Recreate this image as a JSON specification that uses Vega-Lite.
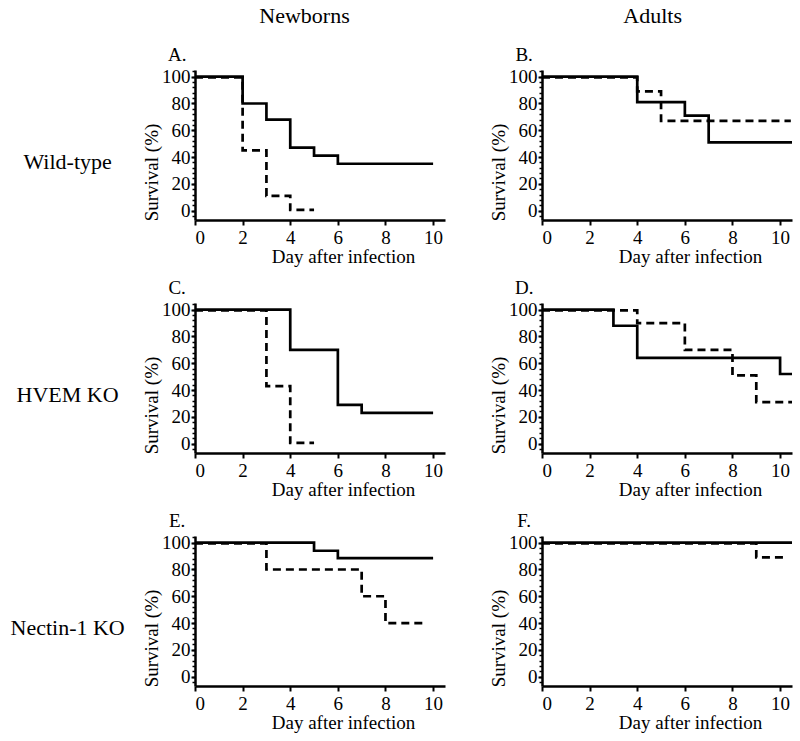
{
  "$schema": "https://vega.github.io/schema/vega-lite/v6.json",
  "background": "white",
  "padding": {"left": 10, "top": 5, "right": 5, "bottom": 5},
  "bounds": "flush",
  "spacing": {"row": 83, "column": 97},
  "resolve": {"axis": {"x": "independent", "y": "independent"}},
  "config": {
    "view": {"stroke": null},
    "font": "Liberation Serif",
    "axis": {
      "grid": false,
      "domainColor": "black",
      "domainWidth": 2.5,
      "tickColor": "black",
      "tickWidth": 2,
      "labelFont": "Liberation Serif",
      "labelFontSize": 19,
      "labelColor": "black",
      "titleFont": "Liberation Serif",
      "titleFontSize": 19,
      "titleFontWeight": "normal",
      "titleColor": "black"
    }
  },
  "data": {
    "values": [
      {"a": "Newborns", "g": "Wild-type", "s": "solid", "d": 0, "v": 100},
      {"a": "Newborns", "g": "Wild-type", "s": "solid", "d": 2, "v": 80},
      {"a": "Newborns", "g": "Wild-type", "s": "solid", "d": 3, "v": 68},
      {"a": "Newborns", "g": "Wild-type", "s": "solid", "d": 4, "v": 47},
      {"a": "Newborns", "g": "Wild-type", "s": "solid", "d": 5, "v": 41},
      {"a": "Newborns", "g": "Wild-type", "s": "solid", "d": 6, "v": 35},
      {"a": "Newborns", "g": "Wild-type", "s": "solid", "d": 10, "v": 35},
      {"a": "Newborns", "g": "Wild-type", "s": "dashed", "d": 0, "v": 99.5},
      {"a": "Newborns", "g": "Wild-type", "s": "dashed", "d": 2, "v": 45},
      {"a": "Newborns", "g": "Wild-type", "s": "dashed", "d": 3, "v": 11},
      {"a": "Newborns", "g": "Wild-type", "s": "dashed", "d": 4, "v": 0.5},
      {"a": "Newborns", "g": "Wild-type", "s": "dashed", "d": 5, "v": 0.5},

      {"a": "Adults", "g": "Wild-type", "s": "solid", "d": 0, "v": 100},
      {"a": "Adults", "g": "Wild-type", "s": "solid", "d": 4, "v": 81},
      {"a": "Adults", "g": "Wild-type", "s": "solid", "d": 6, "v": 71},
      {"a": "Adults", "g": "Wild-type", "s": "solid", "d": 7, "v": 51},
      {"a": "Adults", "g": "Wild-type", "s": "solid", "d": 10.5, "v": 51},
      {"a": "Adults", "g": "Wild-type", "s": "dashed", "d": 0, "v": 99.5},
      {"a": "Adults", "g": "Wild-type", "s": "dashed", "d": 4, "v": 89},
      {"a": "Adults", "g": "Wild-type", "s": "dashed", "d": 5, "v": 67},
      {"a": "Adults", "g": "Wild-type", "s": "dashed", "d": 10.45, "v": 67},

      {"a": "Newborns", "g": "HVEM KO", "s": "solid", "d": 0, "v": 100},
      {"a": "Newborns", "g": "HVEM KO", "s": "solid", "d": 4, "v": 70},
      {"a": "Newborns", "g": "HVEM KO", "s": "solid", "d": 6, "v": 29},
      {"a": "Newborns", "g": "HVEM KO", "s": "solid", "d": 7, "v": 23},
      {"a": "Newborns", "g": "HVEM KO", "s": "solid", "d": 10, "v": 23},
      {"a": "Newborns", "g": "HVEM KO", "s": "dashed", "d": 0, "v": 99.5},
      {"a": "Newborns", "g": "HVEM KO", "s": "dashed", "d": 3, "v": 43},
      {"a": "Newborns", "g": "HVEM KO", "s": "dashed", "d": 4, "v": 0.5},
      {"a": "Newborns", "g": "HVEM KO", "s": "dashed", "d": 5, "v": 0.5},

      {"a": "Adults", "g": "HVEM KO", "s": "solid", "d": 0, "v": 100},
      {"a": "Adults", "g": "HVEM KO", "s": "solid", "d": 3, "v": 88},
      {"a": "Adults", "g": "HVEM KO", "s": "solid", "d": 4, "v": 64},
      {"a": "Adults", "g": "HVEM KO", "s": "solid", "d": 10, "v": 52},
      {"a": "Adults", "g": "HVEM KO", "s": "solid", "d": 10.5, "v": 52},
      {"a": "Adults", "g": "HVEM KO", "s": "dashed", "d": 0, "v": 99.5},
      {"a": "Adults", "g": "HVEM KO", "s": "dashed", "d": 4, "v": 90},
      {"a": "Adults", "g": "HVEM KO", "s": "dashed", "d": 6, "v": 70},
      {"a": "Adults", "g": "HVEM KO", "s": "dashed", "d": 8, "v": 51},
      {"a": "Adults", "g": "HVEM KO", "s": "dashed", "d": 9, "v": 31},
      {"a": "Adults", "g": "HVEM KO", "s": "dashed", "d": 10.5, "v": 31},

      {"a": "Newborns", "g": "Nectin-1 KO", "s": "solid", "d": 0, "v": 100},
      {"a": "Newborns", "g": "Nectin-1 KO", "s": "solid", "d": 5, "v": 94},
      {"a": "Newborns", "g": "Nectin-1 KO", "s": "solid", "d": 6, "v": 88.5},
      {"a": "Newborns", "g": "Nectin-1 KO", "s": "solid", "d": 10, "v": 88.5},
      {"a": "Newborns", "g": "Nectin-1 KO", "s": "dashed", "d": 0, "v": 99.5},
      {"a": "Newborns", "g": "Nectin-1 KO", "s": "dashed", "d": 3, "v": 80},
      {"a": "Newborns", "g": "Nectin-1 KO", "s": "dashed", "d": 7, "v": 60},
      {"a": "Newborns", "g": "Nectin-1 KO", "s": "dashed", "d": 8, "v": 40},
      {"a": "Newborns", "g": "Nectin-1 KO", "s": "dashed", "d": 9.7, "v": 40},

      {"a": "Adults", "g": "Nectin-1 KO", "s": "solid", "d": 0, "v": 100},
      {"a": "Adults", "g": "Nectin-1 KO", "s": "solid", "d": 10.5, "v": 100},
      {"a": "Adults", "g": "Nectin-1 KO", "s": "dashed", "d": 0, "v": 99.5},
      {"a": "Adults", "g": "Nectin-1 KO", "s": "dashed", "d": 9, "v": 89},
      {"a": "Adults", "g": "Nectin-1 KO", "s": "dashed", "d": 10.3, "v": 89},

      {"a": "Newborns", "g": "Wild-type", "kind": "letter", "t": "A.", "d": -0.75, "v": 116},
      {"a": "Adults", "g": "Wild-type", "kind": "letter", "t": "B.", "d": -0.75, "v": 116},
      {"a": "Newborns", "g": "HVEM KO", "kind": "letter", "t": "C.", "d": -0.75, "v": 116},
      {"a": "Adults", "g": "HVEM KO", "kind": "letter", "t": "D.", "d": -0.75, "v": 116},
      {"a": "Newborns", "g": "Nectin-1 KO", "kind": "letter", "t": "E.", "d": -0.75, "v": 116},
      {"a": "Adults", "g": "Nectin-1 KO", "kind": "letter", "t": "F.", "d": -0.75, "v": 116},

      {"a": "Newborns", "g": "Wild-type", "kind": "header", "t": "Newborns", "d": 4.6, "v": 145},
      {"a": "Adults", "g": "Wild-type", "kind": "header", "t": "Adults", "d": 4.65, "v": 145},
      {"a": "Newborns", "g": "Wild-type", "kind": "header", "t": "Wild-type", "d": -5.35, "v": 36},
      {"a": "Newborns", "g": "HVEM KO", "kind": "header", "t": "HVEM KO", "d": -5.35, "v": 36},
      {"a": "Newborns", "g": "Nectin-1 KO", "kind": "header", "t": "Nectin-1 KO", "d": -5.35, "v": 36}
    ]
  },
  "facet": {
    "row": {
      "field": "g",
      "type": "nominal",
      "sort": ["Wild-type", "HVEM KO", "Nectin-1 KO"],
      "header": {"title": null, "labels": false}
    },
    "column": {
      "field": "a",
      "type": "nominal",
      "sort": ["Newborns", "Adults"],
      "header": {"title": null, "labels": false}
    }
  },
  "spec": {
    "width": 250,
    "height": 150,
    "resolve": {"axis": {"y": "independent", "x": "independent"}},
    "layer": [
      {
        "transform": [{"filter": "datum.s != null"}],
        "mark": {"type": "line", "interpolate": "step-after", "color": "black", "strokeWidth": 2.7},
        "encoding": {
          "x": {
            "field": "d", "type": "quantitative",
            "scale": {"domain": [0, 10.5], "nice": false, "zero": false},
            "axis": {
              "values": [0, 2, 4, 6, 8, 10],
              "title": "Day after infection",
              "tickSize": 5,
              "labelPadding": 3,
              "titlePadding": 0,
              "titleAnchor": "middle",
              "titleX": 148
            }
          },
          "y": {
            "field": "v", "type": "quantitative",
            "scale": {"domain": [-7, 105], "nice": false, "zero": false},
            "axis": {
              "orient": "left",
              "values": [0, 20, 40, 60, 80, 100],
              "title": "Survival (%)",
              "tickSize": 4,
              "labelPadding": 1,
              "titleY": 102,
              "titleX": -34,
              "titleBaseline": "bottom"
            }
          },
          "detail": {"field": "s", "type": "nominal"},
          "strokeDash": {
            "field": "s", "type": "nominal",
            "scale": {"domain": ["solid", "dashed"], "range": [[1, 0], [8, 5]]},
            "legend": null
          }
        }
      },
      {
        "transform": [{"filter": "datum.kind == 'letter'"}],
        "mark": {"type": "text", "fontSize": 19, "font": "Liberation Serif", "color": "black", "align": "center", "baseline": "middle"},
        "encoding": {
          "x": {"field": "d", "type": "quantitative", "scale": {"domain": [0, 10.5], "nice": false, "zero": false}, "axis": null},
          "y": {
            "field": "v", "type": "quantitative",
            "scale": {"domain": [-7, 105], "nice": false, "zero": false},
            "axis": {
              "orient": "left",
              "values": [-4, 0, 4, 8, 12, 16, 20, 24, 28, 32, 36, 40, 44, 48, 52, 56, 60, 64, 68, 72, 76, 80, 84, 88, 92, 96, 100, 104],
              "labels": false,
              "title": null,
              "domain": false,
              "tickSize": 3,
              "tickWidth": 1.5
            }
          },
          "text": {"field": "t"}
        }
      },
      {
        "transform": [{"filter": "datum.kind == 'header'"}],
        "mark": {"type": "text", "fontSize": 22, "font": "Liberation Serif", "color": "black", "align": "center", "baseline": "middle"},
        "encoding": {
          "x": {"field": "d", "type": "quantitative", "scale": {"domain": [0, 10.5], "nice": false, "zero": false}, "axis": null},
          "y": {"field": "v", "type": "quantitative", "scale": {"domain": [-7, 105], "nice": false, "zero": false}, "axis": null},
          "text": {"field": "t"}
        }
      }
    ]
  }
}
